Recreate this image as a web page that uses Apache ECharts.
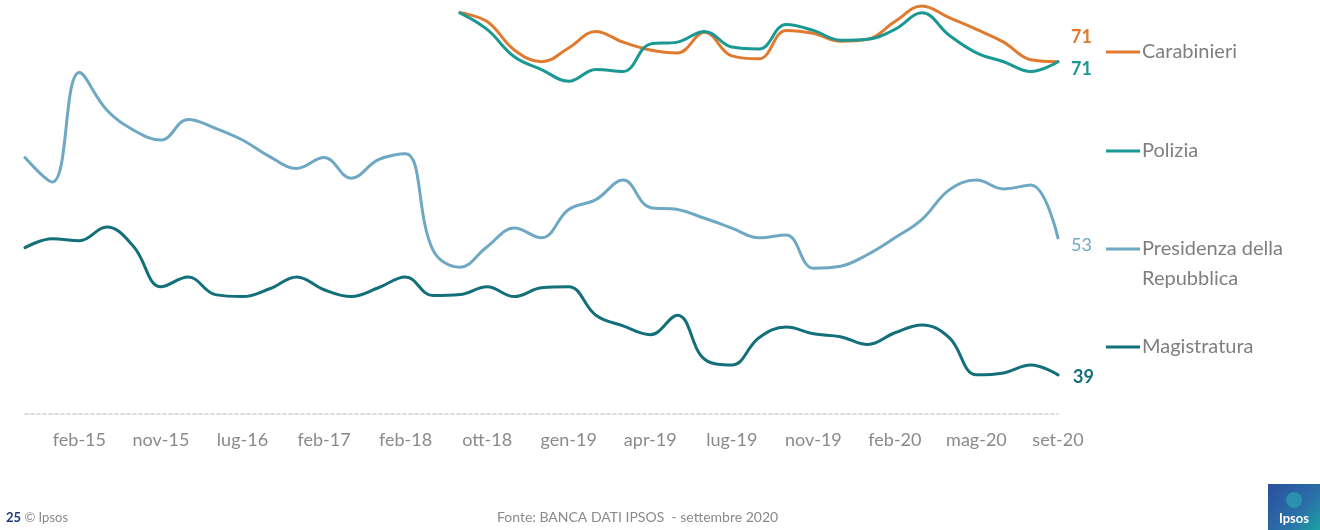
<!DOCTYPE html>
<html>
<head>
<meta charset="utf-8">
<title>Fiducia nelle istituzioni</title>
<script src="https://cdn.jsdelivr.net/npm/echarts@6/dist/echarts.min.js"></script>
<style>
  html, body { margin: 0; padding: 0; background: #ffffff; }
  #chart { width: 1320px; height: 530px; }
</style>
</head>
<body>
<div id="chart"></div>
<script>
// Survey waves (category axis); every third wave carries a tick label
const months = [
  'dic-14', 'gen-15', 'feb-15', 'mag-15', 'lug-15', 'nov-15', 'feb-16', 'apr-16', 'lug-16',
  'set-16', 'nov-16', 'feb-17', 'mag-17', 'set-17', 'feb-18', 'apr-18', 'set-18', 'ott-18',
  'nov-18', 'dic-18', 'gen-19', 'feb-19', 'mar-19', 'apr-19', 'mag-19', 'giu-19', 'lug-19',
  'set-19', 'ott-19', 'nov-19', 'dic-19', 'gen-20', 'feb-20', 'mar-20', 'apr-20', 'mag-20',
  'giu-20', 'lug-20', 'set-20'
];
const tickLabels = ['feb-15', 'nov-15', 'lug-16', 'feb-17', 'feb-18', 'ott-18', 'gen-19',
  'apr-19', 'lug-19', 'nov-19', 'feb-20', 'mag-20', 'set-20'];

// Fiducia (%) — full period
const presidenza = [61.2, 58.7, 69.9, 66.1, 64.0, 63.0, 65.1, 64.2, 63.0, 61.3, 60.1, 61.2, 59.1,
  61.0, 61.6, 51.8, 50.0, 52.1, 54.0, 53.0, 55.9, 56.9, 58.9, 56.1, 55.9, 55.0, 54.0, 53.0, 53.3,
  49.9, 50.1, 51.3, 53.0, 54.9, 57.9, 58.9, 58.0, 58.4, 53];
const magistratura = [52.0, 52.9, 52.7, 54.1, 52.1, 48.0, 49.0, 47.2, 47.0, 47.8, 49.0, 47.7, 47.0,
  47.9, 49.0, 47.1, 47.2, 48.0, 47.0, 47.9, 48.0, 45.1, 44.0, 43.1, 45.1, 40.6, 40.0, 42.8, 43.9,
  43.2, 42.9, 42.1, 43.3, 44.1, 42.8, 39.0, 39.2, 40.0, 39];

// Fiducia (%) — from set-18 onwards
const forzeStart = 'set-18';
const carabinieri = [76.0, 75.1, 72.2, 71.0, 72.4, 74.1, 73.0, 72.2, 71.9, 74.0, 71.6, 71.3, 74.2,
  73.9, 73.1, 73.3, 75.1, 76.7, 75.5, 74.3, 73.0, 71.2, 71];
const polizia = [76.0, 74.3, 71.5, 70.2, 69.0, 70.2, 70.0, 72.8, 73.0, 74.1, 72.5, 72.3, 74.8,
  74.2, 73.2, 73.3, 74.3, 76.0, 73.7, 71.9, 71.0, 70.0, 71];

const COLORS = {
  carabinieri: '#E07A2E',
  polizia: '#1A9893',
  presidenza: '#6FA8C3',
  magistratura: '#13707A'
};
const FONT = 'Lato, "Open Sans", sans-serif';

// series that start later are padded with empty waves before their first survey
function alignFrom(start, values) {
  const offset = months.indexOf(start);
  return months.map((m, i) => (i < offset ? null : values[i - offset]));
}

function lineSeries(name, data, color, label) {
  return {
    name: name,
    type: 'line',
    data: data,
    smooth: 0.4,
    showSymbol: false,
    clip: false,
    lineStyle: { color: color, width: 3, cap: 'round', join: 'round' },
    itemStyle: { color: color },
    endLabel: Object.assign({
      show: true,
      formatter: p => String(p.value),
      color: color,
      fontFamily: FONT,
      fontSize: 18,
      fontWeight: 'bold',
      distance: 13
    }, label || {}),
    emphasis: { disabled: true },
    z: 3
  };
}

// legend entries drawn at the right of the plot
const legendItems = [
  { text: 'Carabinieri', color: COLORS.carabinieri, y: 52 },
  { text: 'Polizia', color: COLORS.polizia, y: 151 },
  { text: 'Presidenza della\nRepubblica', color: COLORS.presidenza, y: 249 },
  { text: 'Magistratura', color: COLORS.magistratura, y: 347 }
];
const legendGraphics = [];
legendItems.forEach(it => {
  legendGraphics.push({
    type: 'line',
    shape: { x1: 1106, y1: it.y, x2: 1140, y2: it.y },
    style: { stroke: it.color, lineWidth: 3 }
  });
  legendGraphics.push({
    type: 'text',
    x: 1142,
    y: it.y - 15,
    style: {
      text: it.text,
      fill: '#7f7f7f',
      font: '20px ' + FONT,
      lineHeight: 30,
      verticalAlign: 'top'
    }
  });
});

const chart = echarts.init(document.getElementById('chart'), null, { renderer: 'canvas' });
chart.setOption({
  animation: false,
  backgroundColor: '#ffffff',
  grid: { left: 25, right: 262, top: 3, bottom: 116, containLabel: false },
  xAxis: {
    type: 'category',
    data: months,
    boundaryGap: false,
    axisLine: { show: true, lineStyle: { color: '#dedede', width: 2, type: [3, 3] } },
    axisTick: { show: false },
    axisLabel: {
      interval: (i, v) => tickLabels.indexOf(v) !== -1,
      color: '#8a8a8a',
      fontFamily: FONT,
      fontSize: 18,
      margin: 17
    },
    splitLine: { show: false }
  },
  yAxis: {
    type: 'value',
    min: 35,
    max: 77,
    show: false,
    splitLine: { show: false }
  },
  series: [
    lineSeries('Presidenza della Repubblica', presidenza, COLORS.presidenza,
      { fontWeight: 'normal', offset: [0, 7] }),
    lineSeries('Magistratura', magistratura, COLORS.magistratura,
      { offset: [2, 2] }),
    lineSeries('Carabinieri', alignFrom(forzeStart, carabinieri), COLORS.carabinieri,
      { offset: [0, -25] }),
    lineSeries('Polizia', alignFrom(forzeStart, polizia), COLORS.polizia,
      { offset: [0, 7] })
  ],
  graphic: legendGraphics.concat([
    {
      type: 'text', left: 6, top: 511,
      style: {
        text: '{n|25} {t|© Ipsos}',
        rich: {
          n: { fill: '#1f3a7a', fontWeight: 'bold', fontSize: 13, fontFamily: FONT },
          t: { fill: '#8a8a8a', fontSize: 13, fontFamily: FONT }
        }
      }
    },
    {
      type: 'text', left: 497, top: 510,
      style: {
        text: 'Fonte: BANCA DATI IPSOS  - settembre 2020',
        fill: '#8a8a8a',
        font: '14px ' + FONT
      }
    },
    {
      type: 'rect',
      shape: { x: 1268, y: 484, width: 52, height: 46 },
      style: {
        fill: new echarts.graphic.LinearGradient(0, 0, 1, 1, [
          { offset: 0, color: '#2b4f9e' },
          { offset: 0.6, color: '#2a6fa8' },
          { offset: 1, color: '#1aa3a2' }
        ])
      }
    },
    {
      type: 'circle',
      shape: { cx: 1294, cy: 500, r: 8 },
      style: { fill: 'rgba(40, 180, 180, 0.55)' }
    },
    {
      type: 'text', x: 1294, y: 519,
      style: {
        text: 'Ipsos',
        fill: '#ffffff',
        font: 'bold 13px ' + FONT,
        align: 'center',
        verticalAlign: 'middle'
      }
    }
  ])
});
</script>
</body>
</html>
